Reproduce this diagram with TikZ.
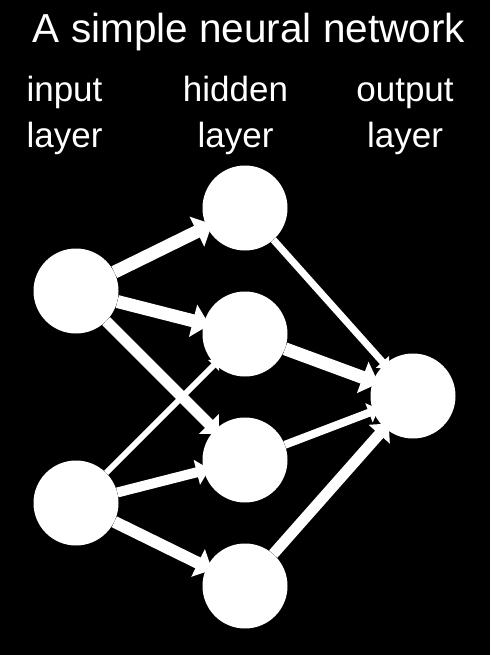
\documentclass[tikz,border=0pt]{standalone}
\usepackage{fontspec}
\setmainfont{Liberation Sans}
\usetikzlibrary{arrows.meta}
\pgfdeclarelayer{bg}
\pgfdeclarelayer{edges}
\pgfsetlayers{bg,edges,main}
\begin{document}
\begin{tikzpicture}[x=1pt,y=-1pt,
  neuron/.style={circle,fill=white,draw=none,minimum size=85pt,inner sep=0pt},
  lbl/.style={text=white,anchor=base,inner sep=0pt,font=\fontsize{35}{40}\selectfont},
  ttl/.style={text=white,anchor=base,inner sep=0pt,font=\fontsize{40.5}{46}\selectfont},
  conn/.style={draw=white,line width=#1,shorten >=-6pt,
    -{Triangle[length=0pt 1.3,width=0pt 2.5]}},
]
\begin{pgfonlayer}{bg}
\fill[black] (0,0) rectangle (490,655);
\end{pgfonlayer}
\useasboundingbox (0,0) rectangle (490,655);

\node[ttl] (title) at (249,43) {A simple neural network};
\node[lbl] (l1a) at (64.5,102) {input};
\node[lbl] (l1b) at (64.5,148) {layer};
\node[lbl] (l2a) at (235.5,102) {hidden};
\node[lbl] (l2b) at (235.5,148) {layer};
\node[lbl] (l3a) at (405,102) {output};
\node[lbl] (l3b) at (405,148) {layer};

\node[neuron] (i1) at (76,291) {};
\node[neuron] (i2) at (76,503) {};
\node[neuron] (h1) at (245,208) {};
\node[neuron] (h2) at (245,334) {};
\node[neuron] (h3) at (245,460) {};
\node[neuron] (h4) at (245,586) {};
\node[neuron] (o) at (413,396) {};

\begin{pgfonlayer}{edges}
\draw[conn=13pt] (i1) -- (h1);
\draw[conn=13pt] (i1) -- (h2);
\draw[conn=11pt] (i1) -- (h3);
\draw[conn=6pt] (i2) -- (h2);
\draw[conn=10pt] (i2) -- (h3);
\draw[conn=12pt] (i2) -- (h4);
\draw[conn=7pt] (h1) -- (o);
\draw[conn=13pt] (h2) -- (o);
\draw[conn=8pt] (h3) -- (o);
\draw[conn=11pt] (h4) -- (o);
\end{pgfonlayer}
\end{tikzpicture}
\end{document}
